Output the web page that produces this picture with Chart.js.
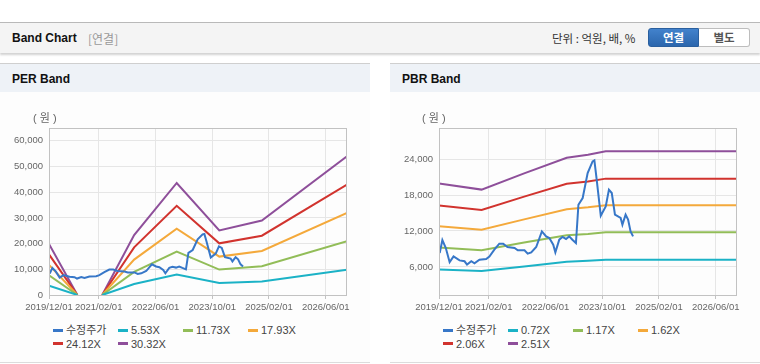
<!DOCTYPE html>
<html>
<head>
<meta charset="utf-8">
<script src="https://cdn.jsdelivr.net/npm/chart.js@4.4.0/dist/chart.umd.min.js"></script>
<style>
body{margin:0;width:760px;height:364px;background:#fff;position:relative;overflow:hidden;font-family:'Liberation Sans','Noto Sans CJK KR',sans-serif;color:#333;}
.top{position:absolute;left:0;top:22px;width:760px;height:30px;background:#f4f4f4;border-top:1px solid #b9b9b9;box-shadow:0 2px 2px rgba(0,0,0,0.18);}
.top .ttl{position:absolute;left:12px;top:8px;font-size:12px;font-weight:bold;color:#111;}
.top .sub{position:absolute;left:88px;top:8px;font-size:12px;color:#999;font-family:'Noto Sans CJK KR',sans-serif;line-height:15px;}
.top .unit{position:absolute;left:552px;top:8px;font-size:11.5px;color:#333;font-family:'Noto Sans CJK KR',sans-serif;line-height:15px;}
.btn{position:absolute;top:5px;height:19px;width:51px;box-sizing:border-box;font-size:11.5px;font-weight:bold;text-align:center;line-height:17px;font-family:'Noto Sans CJK KR',sans-serif;}
.b1{left:648px;background:linear-gradient(#4282cc,#2b66ad);color:#fff;border:1px solid #2a5f9e;border-radius:3px 0 0 3px;}
.b2{left:699px;background:#fff;color:#555;border:1px solid #bdbdbd;border-left:none;border-radius:0 3px 3px 0;}
.panel{position:absolute;top:63px;width:370px;height:298px;border-top:1px solid #cfcfcf;border-bottom:1px solid #dcdcdc;background:#fdfdfd;}
.panel .ph{height:28px;background:#eef2f7;font-size:12px;font-weight:bold;line-height:30px;padding-left:12px;color:#111;}
.won{position:absolute;top:110px;font-size:11px;color:#666;z-index:3;line-height:14px;}
.won span{font-family:'Noto Sans CJK KR',sans-serif;}
.box{position:absolute;top:100px;width:370px;height:220px;z-index:1;}
.lg{position:absolute;font-size:11px;color:#444;white-space:nowrap;line-height:13px;font-family:'Liberation Sans','Noto Sans CJK KR',sans-serif;}
.lg i{display:inline-block;width:10px;height:3px;vertical-align:middle;margin-right:3px;position:relative;top:-1px;}
</style>
</head>
<body>
<div class="top">
  <span class="ttl">Band Chart</span><span class="sub">[연결]</span>
  <span class="unit">단위 : 억원, 배, %</span>
  <div class="btn b1">연결</div><div class="btn b2">별도</div>
</div>
<div class="panel" style="left:0"><div class="ph">PER Band</div></div>
<div class="panel" style="left:390px"><div class="ph">PBR Band</div></div>
<div class="box" style="left:0"><canvas id="per"></canvas></div>
<div class="box" style="left:390px"><canvas id="pbr"></canvas></div>
<div class="won" style="left:33px">( <span>원</span> )</div>
<div class="won" style="left:422px">( <span>원</span> )</div>
<div id="perLegend"></div>
<div id="pbrLegend"></div>
<script>
// x axis is months since 2019/12/01
const tickMonths = [0, 14, 30, 46, 62, 78];
const tickLabels = ['2019/12/01', '2021/02/01', '2022/06/01', '2023/10/01', '2025/02/01', '2026/06/01'];

// 수정주가
const priceMonths = [0.2,0.95,1.9,3.0,4.1,5.8,7.2,7.9,9.1,10.0,11.4,13.3,14.2,15.6,17.0,18.1,19.3,21.3,22.2,24.1,25.0,26.0,27.4,29.0,30.2,31.1,32.2,32.8,33.9,34.8,35.8,36.7,37.6,38.6,39.3,40.5,41.9,43.3,43.8,44.4,45.6,47.0,47.9,48.7,49.6,51.2,51.7,52.6,53.3,54.0,54.7];
const priceValues = [8330,10500,9200,6800,7750,7100,6950,6400,6950,6600,7200,7330,7750,8880,9880,9880,9330,9170,8780,8780,8220,8440,9330,11940,11110,10830,9720,8440,10550,11000,10670,11100,10550,10000,16380,17500,21670,23600,23780,20830,14550,16100,18890,18330,14720,14170,13060,14720,13900,11940,11100];

// PER band
const perNames = ['5.53X', '11.73X', '17.93X', '24.12X', '30.32X'];
const perMonths = [0, 8, 11, 15, 24, 36, 48, 60, 84];
const per553 = [3620, 0, null, 0, 4250, 7950, 4700, 5290, 9850];
const per1173 = [7690, 0, null, 0, 9010, 16870, 9900, 11220, 20890];
const per1793 = [11750, 0, null, 0, 13780, 25780, 14950, 17150, 31930];
const per2412 = [15810, 0, null, 0, 18540, 34690, 20100, 23070, 42960];
const per3032 = [19870, 0, null, 0, 23300, 43600, 25100, 29000, 54000];
const perYTicks = [0, 10000, 20000, 30000, 40000, 50000, 60000];

// PBR band
const pbrNames = ['0.72X', '1.17X', '1.62X', '2.06X', '2.51X'];
const pbrMonths = [0, 12, 24, 36, 42, 47, 84];
const pbr072 = [5600, 5330, 6100, 6880, 7050, 7220, 7220];
const pbr117 = [9250, 8800, 10070, 11280, 11510, 11790, 11790];
const pbr162 = [12800, 12200, 13940, 15620, 15940, 16300, 16300];
const pbr206 = [16250, 15520, 17730, 19860, 20270, 20730, 20730];
const pbr251 = [19900, 18900, 21600, 24200, 24700, 25300, 25300];
const pbrYTicks = [6000, 12000, 18000, 24000];

const colors = ['#3777c8', '#1bb2c6', '#92bd58', '#f4a93b', '#d1332e', '#8e4f9a'];

function pts(xs, ys) {
    return xs.map(function (x, i) { return {x: x, y: ys[i]}; });
}

function line(label, data, color) {
    return {
        label: label,
        data: data,
        borderColor: color,
        backgroundColor: color,
        borderWidth: 2,
        pointRadius: 0,
        tension: 0,
        fill: false,
        spanGaps: false
    };
}

var plotBorder = {
    id: 'plotBorder',
    afterDraw: function (chart) {
        var a = chart.chartArea, ctx = chart.ctx;
        ctx.save();
        ctx.strokeStyle = '#c2c2c2';
        ctx.lineWidth = 1;
        ctx.strokeRect(Math.round(a.left) + 0.5, Math.round(a.top) + 0.5,
            Math.round(a.right - a.left) - 1, Math.round(a.bottom - a.top));
        ctx.restore();
    }
};

function makeChart(id, datasets, yMin, yMax, yTicks) {
    return new Chart(document.getElementById(id), {
        type: 'line',
        data: {datasets: datasets},
        plugins: [plotBorder],
        options: {
            responsive: true,
            maintainAspectRatio: false,
            animation: false,
            layout: {padding: {top: 28, right: 23, left: 0, bottom: 0}},
            plugins: {legend: {display: false}, tooltip: {enabled: false}},
            scales: {
                x: {
                    type: 'linear',
                    min: 0,
                    max: 84,
                    afterBuildTicks: function (s) { s.ticks = tickMonths.map(function (v) { return {value: v}; }); },
                    afterFit: function (s) { s.height = 25; },
                    border: {display: false},
                    grid: {color: '#e6e6e6', tickLength: 4, tickColor: '#c2c2c2'},
                    ticks: {
                        autoSkip: false, maxRotation: 0, padding: 3,
                        color: '#666', font: {size: 9.5, family: 'Liberation Sans'},
                        callback: function (v) { return tickLabels[tickMonths.indexOf(v)]; }
                    }
                },
                y: {
                    min: yMin,
                    max: yMax,
                    afterBuildTicks: function (s) { s.ticks = yTicks.map(function (v) { return {value: v}; }); },
                    afterFit: function (s) { s.width = 49; },
                    border: {display: false},
                    grid: {color: '#e6e6e6', drawTicks: false},
                    ticks: {
                        padding: 6, color: '#666', font: {size: 9.5, family: 'Liberation Sans'},
                        callback: function (v) { return v.toLocaleString('en-US'); }
                    }
                }
            }
        }
    });
}

var perChart = makeChart('per', [
    line('수정주가', pts(priceMonths, priceValues), colors[0]),
    line(perNames[0], pts(perMonths, per553), colors[1]),
    line(perNames[1], pts(perMonths, per1173), colors[2]),
    line(perNames[2], pts(perMonths, per1793), colors[3]),
    line(perNames[3], pts(perMonths, per2412), colors[4]),
    line(perNames[4], pts(perMonths, per3032), colors[5])
], 0, 65000, perYTicks);

var pbrChart = makeChart('pbr', [
    line('수정주가', pts(priceMonths, priceValues), colors[0]),
    line(pbrNames[0], pts(pbrMonths, pbr072), colors[1]),
    line(pbrNames[1], pts(pbrMonths, pbr117), colors[2]),
    line(pbrNames[2], pts(pbrMonths, pbr162), colors[3]),
    line(pbrNames[3], pts(pbrMonths, pbr206), colors[4]),
    line(pbrNames[4], pts(pbrMonths, pbr251), colors[5])
], 1330, 29170, pbrYTicks);

function buildLegend(chart, elId, left) {
    var el = document.getElementById(elId);
    chart.data.datasets.forEach(function (ds, i) {
        var d = document.createElement('div');
        d.className = 'lg';
        d.style.left = (left + (i % 4) * 65) + 'px';
        d.style.top = (324 + Math.floor(i / 4) * 13.5) + 'px';
        d.innerHTML = '<i style="background:' + ds.borderColor + '"></i>' + ds.label;
        el.appendChild(d);
    });
}
buildLegend(perChart, 'perLegend', 53);
buildLegend(pbrChart, 'pbrLegend', 443);
</script>
</body>
</html>
